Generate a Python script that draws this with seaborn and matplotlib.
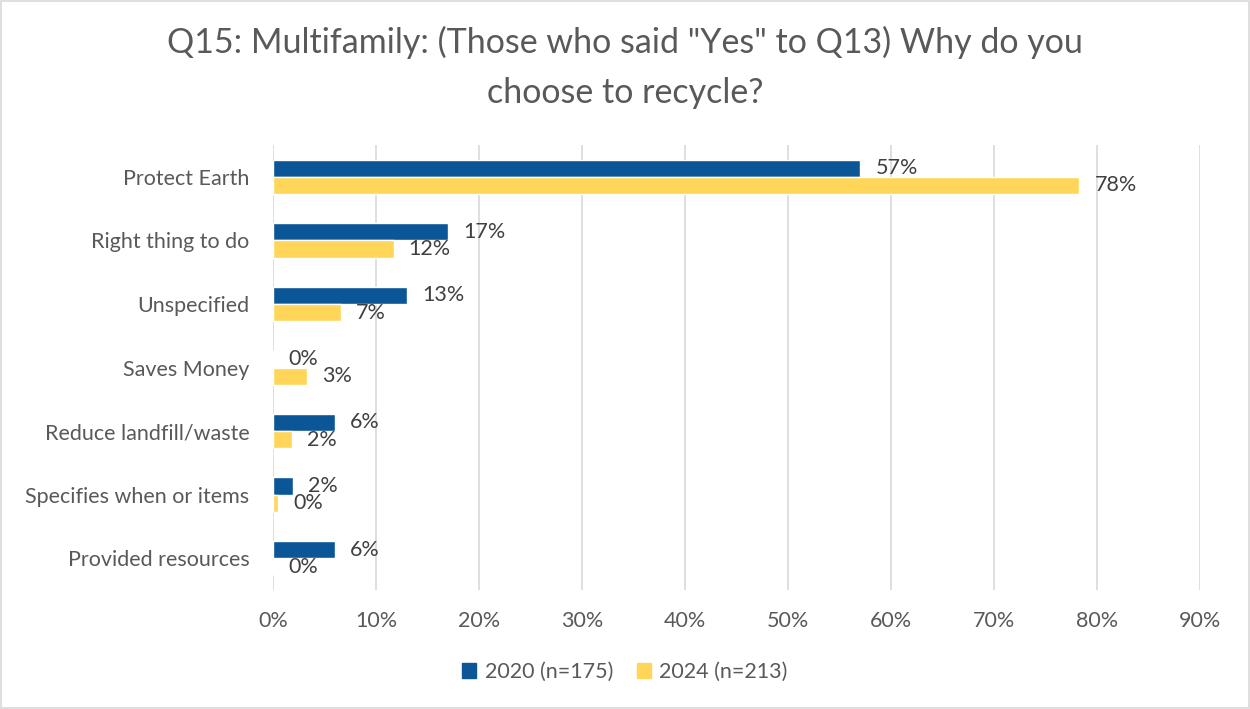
import matplotlib
matplotlib.use("Agg")
import matplotlib.pyplot as plt
import pandas as pd
import seaborn as sns
from matplotlib.patches import Rectangle

# chart data
categories = ["Protect Earth", "Right thing to do", "Unspecified", "Saves Money",
              "Reduce landfill/waste", "Specifies when or items", "Provided resources"]
vals_2020 = [57.0, 17.0, 13.0, 0.0, 6.0, 1.9, 6.0]
vals_2024 = [78.3, 11.7, 6.6, 3.3, 1.8, 0.5, 0.0]
series = ["2020 (n=175)", "2024 (n=213)"]
colors = ["#0B5696", "#FFD55A"]
ticks = [0, 10, 20, 30, 40, 50, 60, 70, 80, 90]

# long form table for seaborn
rows = []
for name, vals in zip(series, [vals_2020, vals_2024]):
	for c, v in zip(categories, vals):
		rows.append({"category": c, "series": name, "value": v})
df = pd.DataFrame(rows)

sns.set_style("white")
plt.rcParams['font.family'] = ['Lato', 'DejaVu Sans']
text_col = "#595959"

fig = plt.figure(figsize=(12.5, 7.09), dpi=100)
ax = fig.add_axes([273/1250, 1-590/709, (1200-273)/1250, (590-145)/709])

sns.barplot(data=df, y="category", x="value", hue="series", order=categories,
	hue_order=series, palette=colors, orient="h", width=0.54, saturation=1,
	ax=ax, legend=False)

# data labels at bar ends
for cont in ax.containers:
	labs = ["{:.0f}%".format(b.get_width()) for b in cont]
	ax.bar_label(cont, labels=labs, padding=11, fontsize=15.5, color="#404040")

ax.set_xlim(0, 90)
ax.set_xticks(ticks)
ax.set_xticklabels(["{}%".format(t) for t in ticks])
ax.set_xlabel("")
ax.set_ylabel("")
ax.grid(axis="x", color="#D9D9D9", linewidth=1.2)
ax.set_axisbelow(True)
for s in ax.spines.values():
	s.set_visible(False)
ax.tick_params(axis="x", length=0, pad=15, labelsize=15.5, labelcolor=text_col)
ax.tick_params(axis="y", length=0, pad=17, labelsize=15.5, labelcolor=text_col)

fig.suptitle("Q15: Multifamily: (Those who said \"Yes\" to Q13) Why do you\nchoose to recycle?",
	x=0.5, y=1-26/709, va="top", fontsize=24.5, color=text_col, linespacing=1.68)

handles = [Rectangle((0, 0), 1, 1, color=c) for c in colors]
fig.legend(handles, series, loc="center", bbox_to_anchor=(0.5, 1-672/709), ncol=2,
	frameon=False, fontsize=15.5, labelcolor=text_col, handlelength=0.65,
	handleheight=0.65, handletextpad=0.4, columnspacing=1.1)

# grey chart border
fig.patches.append(Rectangle((0.001, 0.001), 0.998, 0.998, transform=fig.transFigure,
	fill=False, edgecolor="#D9D9D9", linewidth=1.2))

fig.savefig("out.png", dpi=100)
